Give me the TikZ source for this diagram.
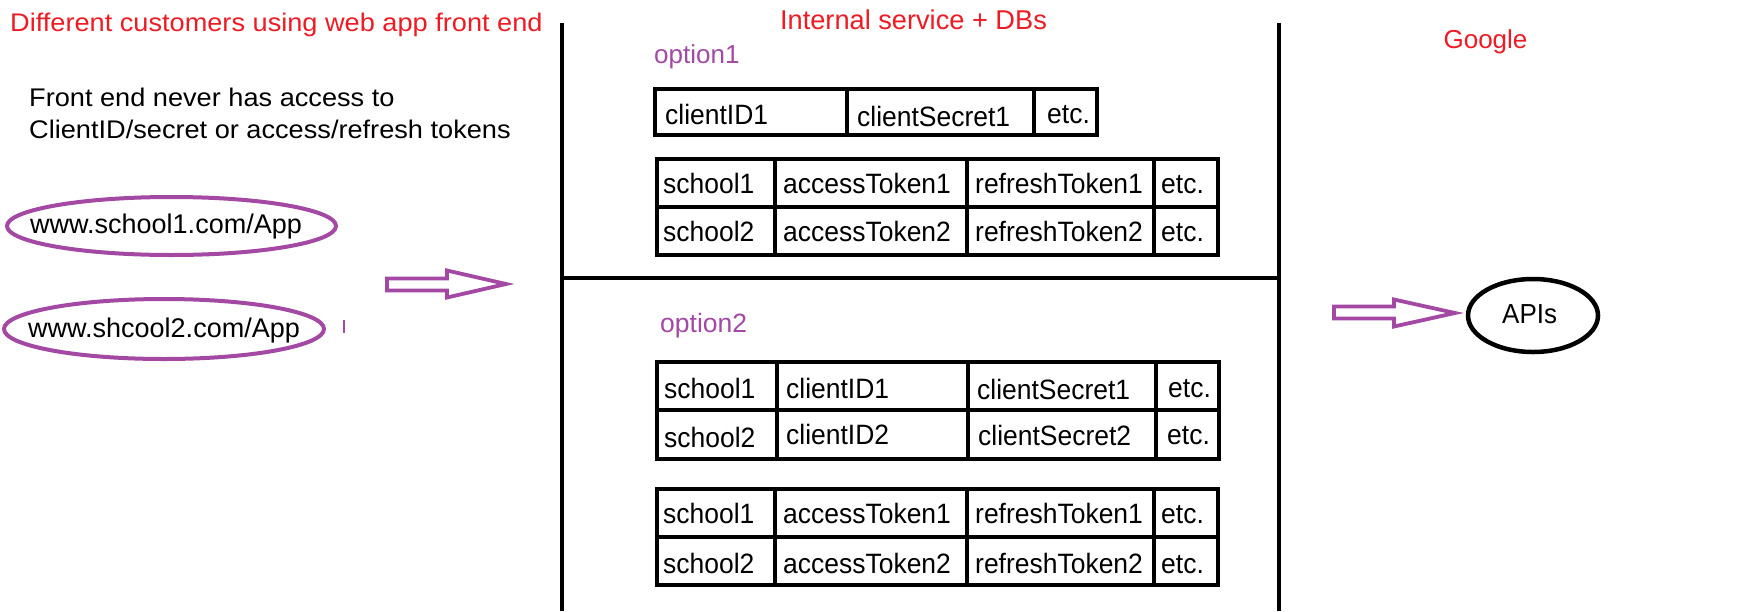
\documentclass[tikz,border=0pt]{standalone}
\usepackage{fontspec}
\setmainfont{Liberation Sans}
\newfontfamily\widefont[FakeStretch=1.065]{Liberation Sans}
\newfontfamily\tabfont[FakeStretch=0.945]{Liberation Sans}
\usetikzlibrary{shapes.geometric}
\definecolor{ppurple}{HTML}{A349A4}
\definecolor{pred}{HTML}{ED1C24}
\tikzset{
  lefttxt/.style={anchor=base west, inner sep=0pt, font=\widefont\fontsize{25.5}{30}\selectfont},
  ctxt/.style={anchor=base west, inner sep=0pt, font=\tabfont\fontsize{28}{30}\selectfont},
  head/.style={anchor=base, inner sep=0pt, text=pred, font=\fontsize{27}{30}\selectfont},
  opt/.style={anchor=base west, inner sep=0pt, text=ppurple, font=\fontsize{26}{30}\selectfont},
  urltxt/.style={anchor=base west, inner sep=0pt, font=\fontsize{27}{30}\selectfont},
  grid/.style={line width=4.5pt, line join=miter},
  sepline/.style={line width=4.5pt},
  oval/.style={ellipse, draw=ppurple, line width=4pt, inner sep=0pt},
  blockarrow/.style={draw=ppurple, line width=3.8pt, line join=miter},
}
\begin{document}
\begin{tikzpicture}[x=1pt,y=-1pt]
\useasboundingbox[fill=white] (0,0) rectangle (1758,611);

% section separators
\coordinate (lt) at (562,23);
\coordinate (lb) at (562,611);
\coordinate (rt) at (1279,23);
\coordinate (rb) at (1279,611);
\coordinate (ml) at (562,278);
\coordinate (mr) at (1279,278);
\draw[sepline] (lt) -- (lb);
\draw[sepline] (rt) -- (rb);
\draw[sepline] (ml) -- (mr);

% headings
\node[lefttxt, text=pred] (h1) at (10,31) {Different customers using web app front end};
\node[head, font=\fontsize{27.2}{30}\selectfont] (h2) at (913.5,29) {Internal service + DBs};
\node[head, font=\fontsize{26}{30}\selectfont] (h3) at (1485.5,48) {Google};

% left column
\node[lefttxt] (note1) at (29,106) {Front end never has access to};
\node[lefttxt] (note2) at (29,138) {ClientID/secret or access/refresh tokens};

\node[oval, minimum width=329pt, minimum height=58pt] (s1) at (171.5,226) {};
\node[urltxt] (s1t) at (30,233) {www.school1.com/App};
\node[oval, minimum width=320pt, minimum height=60pt] (s2) at (164,329) {};
\node[urltxt] (s2t) at (28,337) {www.shcool2.com/App};
\coordinate (tk1) at (344,320);
\coordinate (tk2) at (344,333);
\draw[ppurple, line width=1.2pt] (tk1) -- (tk2);

% left block arrow
\draw[blockarrow] (387,278.5) -- (447,278.5) -- (447,270.5) -- (506,284) -- (447,297.5) -- (447,290.5) -- (387,290.5) -- cycle;

% option 1
\node[opt] (o1) at (654,63) {option1};
\draw[grid] (655,89) rectangle (1097,135);
\draw[grid] (847,89) -- (847,135) (1034,89) -- (1034,135);
\node[ctxt] (a1) at (665,124) {clientID1};
\node[ctxt] (a2) at (857,126) {clientSecret1};
\node[ctxt] (a3) at (1047,123) {etc.};

\draw[grid] (657,159) rectangle (1218,255);
\draw[grid] (657,207) -- (1218,207);
\draw[grid] (775,159) -- (775,255) (967,159) -- (967,255) (1154,159) -- (1154,255);
\node[ctxt] (b11) at (663,193) {school1};
\node[ctxt] (b12) at (783,193) {accessToken1};
\node[ctxt] (b13) at (975,193) {refreshToken1};
\node[ctxt] (b14) at (1161,193) {etc.};
\node[ctxt] (b21) at (663,241) {school2};
\node[ctxt] (b22) at (783,241) {accessToken2};
\node[ctxt] (b23) at (975,241) {refreshToken2};
\node[ctxt] (b24) at (1161,241) {etc.};

% option 2
\node[opt, font=\fontsize{26.5}{30}\selectfont] (o2) at (660,332) {option2};
\draw[grid] (657,362) rectangle (1219,459);
\draw[grid] (657,410) -- (1219,410);
\draw[grid] (777,362) -- (777,459) (968,362) -- (968,459) (1156,362) -- (1156,459);
\node[ctxt] (c11) at (664,398) {school1};
\node[ctxt] (c12) at (786,398) {clientID1};
\node[ctxt] (c13) at (977,399) {clientSecret1};
\node[ctxt] (c14) at (1168,397) {etc.};
\node[ctxt] (c21) at (664,447) {school2};
\node[ctxt] (c22) at (786,444) {clientID2};
\node[ctxt] (c23) at (978,445) {clientSecret2};
\node[ctxt] (c24) at (1167,444) {etc.};

\draw[grid] (657,489) rectangle (1218,585);
\draw[grid] (657,537) -- (1218,537);
\draw[grid] (775,489) -- (775,585) (967,489) -- (967,585) (1154,489) -- (1154,585);
\node[ctxt] (d11) at (663,523) {school1};
\node[ctxt] (d12) at (783,523) {accessToken1};
\node[ctxt] (d13) at (975,523) {refreshToken1};
\node[ctxt] (d14) at (1161,523) {etc.};
\node[ctxt] (d21) at (663,573) {school2};
\node[ctxt] (d22) at (783,573) {accessToken2};
\node[ctxt] (d23) at (975,573) {refreshToken2};
\node[ctxt] (d24) at (1161,573) {etc.};

% right block arrow and APIs
\draw[blockarrow] (1334,306.5) -- (1394,306.5) -- (1394,299.5) -- (1455,313) -- (1394,326.5) -- (1394,318.5) -- (1334,318.5) -- cycle;
\node[ellipse, draw, line width=4.5pt, minimum width=130pt, minimum height=73pt, inner sep=0pt] (api) at (1533,315.5) {};
\node[anchor=base west, inner sep=0pt, font=\tabfont\fontsize{27.5}{30}\selectfont] (apit) at (1502,323) {APIs};
\end{tikzpicture}
\end{document}
